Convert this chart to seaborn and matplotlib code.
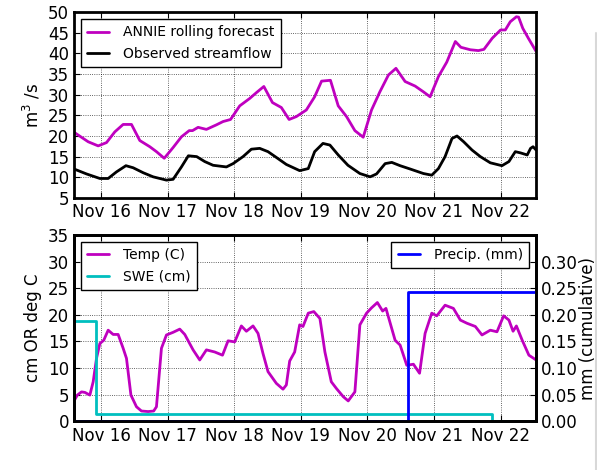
import pandas as pd
import numpy as np
import matplotlib
matplotlib.use("Agg")
import matplotlib.pyplot as plt
import matplotlib.dates as mdates
from matplotlib.lines import Line2D
import seaborn as sns

# hours since Nov 15 00:00
start = pd.Timestamp("2015-11-15")

fc_hours = [14.3, 19.4, 23, 26, 29, 32, 35, 38, 41.6, 44, 46.8, 50, 53, 55.8, 57, 59, 62,
            65.6, 68, 70.7, 74, 77.6, 80, 82.7, 85.8, 89, 91.8, 94.4, 98, 101, 103.5, 106.7,
            109.5, 112.5, 115.5, 118.5, 121.5, 124.5, 127.6, 130.3, 133.6, 137.2, 140.2,
            142.6, 145.6, 148.6, 151.7, 153.7, 157.1, 160, 162, 165, 168, 169.7, 171.5,
            173.7, 174.5, 176, 178, 180.8]
fc_vals = [20.9, 18.6, 17.6, 18.4, 21.0, 22.8, 22.8, 18.9, 17.4, 16.2, 14.6, 17.2, 19.8,
           21.3, 21.3, 22.1, 21.6, 22.7, 23.5, 24.0, 27.3, 29.1, 30.5, 32.0, 28.1, 26.9,
           24.0, 24.7, 26.3, 29.5, 33.3, 33.5, 27.3, 24.7, 21.3, 19.7, 26.3, 30.7, 34.8,
           36.4, 33.2, 32.1, 30.7, 29.5, 34.4, 37.9, 42.9, 41.5, 40.9, 40.7, 41.0, 43.7,
           45.7, 45.7, 47.7, 48.9, 48.8, 46.1, 43.7, 40.5]

obs_hours = [14.3, 18.8, 23.6, 26.6, 29.6, 33, 35.6, 39.2, 42.8, 47.6, 50, 53, 55.5, 58.5,
             61.4, 64.4, 69.2, 71.6, 75.2, 78.2, 81.2, 84.2, 87.2, 90.8, 95.6, 98.7, 101,
             104, 106.5, 109.5, 113, 117.3, 121, 123.3, 126.4, 128.8, 131.8, 135.4, 140.2,
             143.2, 145.6, 148, 150.5, 152.3, 154.7, 157.7, 160.7, 164.3, 168.5, 171,
             173.3, 175.2, 177.6, 178.8, 179.7, 180.8]
obs_vals = [12.0, 10.8, 9.7, 9.7, 11.3, 12.8, 12.3, 11.1, 10.1, 9.3, 9.5, 12.5, 15.2, 15.0,
            13.8, 12.9, 12.5, 13.3, 15.0, 16.8, 17.0, 16.2, 14.8, 13.1, 11.6, 12.1, 16.2,
            18.2, 17.8, 15.4, 12.9, 10.9, 10.1, 10.8, 13.3, 13.6, 12.8, 12.0, 10.9, 10.5,
            12.1, 15.0, 19.4, 20.0, 18.6, 16.6, 15.0, 13.5, 12.8, 13.8, 16.2, 15.9, 15.4,
            17.0, 17.4, 16.6]

temp_hours = [14.3, 15.5, 17, 18.2, 20, 21.2, 22.4, 23.6, 25, 26.6, 28.4, 30.2, 32, 33.2,
              34.8, 36.8, 38.6, 41, 43, 44, 45.8, 47.6, 50, 52.4, 54.2, 57.2, 59.6, 62, 65,
              67.8, 69.8, 72.2, 74.6, 76.4, 78.8, 80.6, 82.4, 84.2, 87.2, 89.6, 90.8, 92,
              93.8, 95.6, 96.8, 98.7, 100.7, 102.9, 104.7, 107, 108.9, 111.3, 113.1, 115.5,
              117.3, 119.7, 121.5, 123.6, 125.5, 126.7, 130, 131.8, 134.2, 136.6, 138.8,
              140.8, 143.2, 145, 148, 151, 153.5, 155.9, 158.9, 161.3, 164.3, 166.7, 169.1,
              171, 172.5, 173.7, 175.8, 178.2, 180.8]
temp_vals = [3.8, 4.9, 5.5, 5.4, 4.9, 7.4, 11.8, 14.6, 15.2, 17.1, 16.3, 16.3, 13.7, 11.8,
             4.9, 2.7, 1.9, 1.8, 1.9, 2.7, 13.7, 16.2, 16.7, 17.3, 16.3, 13.4, 11.5, 13.4,
             13.0, 12.4, 15.1, 14.9, 17.9, 16.9, 17.9, 16.5, 12.7, 9.3, 7.1, 6.0, 6.8, 11.3,
             13.0, 18.1, 17.8, 20.3, 20.6, 19.3, 13.0, 7.4, 6.1, 4.6, 3.8, 5.5, 18.1, 20.3,
             21.3, 22.3, 20.7, 21.2, 15.2, 14.3, 10.5, 10.7, 9.0, 16.5, 20.3, 19.8, 21.8,
             21.2, 19.0, 18.4, 17.8, 16.2, 17.1, 16.8, 19.8, 19.0, 16.9, 17.9, 15.2, 12.4,
             11.5]

swe_hours = [14.3, 22.2, 164.9, 180.8]
swe_vals = [18.9, 1.4, 0.0, 0.0]

precip_hours = [14.3, 134.8, 180.8]
precip_vals = [0.0, 0.242, 0.242]


def to_time(hours):
    return start + pd.to_timedelta(hours, unit="h")


sns.set_style("ticks")
plt.rcParams.update({
    "font.family": ["DejaVu Sans"],
    "font.size": 12,
    "axes.edgecolor": "black",
    "axes.linewidth": 2,
    "axes.grid": True,
    "grid.color": "black",
    "grid.linestyle": ":",
    "grid.linewidth": 0.6,
    "grid.alpha": 0.8,
    "xtick.direction": "in",
    "ytick.direction": "in",
    "xtick.top": True,
    "ytick.right": False,
    "xtick.major.size": 4,
    "ytick.major.size": 4,
    "xtick.color": "black",
    "ytick.color": "black",
    "text.color": "black",
    "axes.labelcolor": "black",
    "legend.frameon": True,
    "legend.fancybox": False,
    "legend.edgecolor": "black",
    "legend.framealpha": 1,
})

fig = plt.figure(figsize=(5.97, 4.70), dpi=100)
ax1 = fig.add_axes([0.124, 0.579, 0.774, 0.395])
ax2 = fig.add_axes([0.124, 0.104, 0.774, 0.396])

xmin = to_time(14.3)
xmax = to_time(180.8)

leg_kw = dict(fontsize=10, handlelength=1.6, handletextpad=1.0, borderpad=0.45,
              labelspacing=0.55)

sns.lineplot(x=to_time(fc_hours), y=fc_vals, ax=ax1, color="m", linewidth=2,
             label="ANNIE rolling forecast", estimator=None)
sns.lineplot(x=to_time(obs_hours), y=obs_vals, ax=ax1, color="k", linewidth=2,
             label="Observed streamflow", estimator=None)
ax1.set_ylim(5, 50)
ax1.set_yticks(range(5, 51, 5))
ax1.set_ylabel("m$^3$ /s")
ax1.legend(loc="upper left", **leg_kw)

sns.lineplot(x=to_time(temp_hours), y=temp_vals, ax=ax2, color="m", linewidth=2,
             label="Temp (C)", estimator=None)
sns.lineplot(x=to_time(swe_hours), y=swe_vals, ax=ax2, color="c", linewidth=2,
             label="SWE (cm)", estimator=None, drawstyle="steps-post")
ax2.set_ylim(0, 35)
ax2.set_yticks(range(0, 36, 5))
ax2.set_ylabel("cm OR deg C")
ax2.legend(loc="upper left", **leg_kw)

ax3 = ax2.twinx()
ax3.grid(False)
sns.lineplot(x=to_time(precip_hours), y=precip_vals, ax=ax3, color="b", linewidth=2,
             label="Precip. (mm)", estimator=None, drawstyle="steps-post")
ax3.set_ylim(0, 0.35)
ax3.set_yticks(np.arange(0, 0.301, 0.05))
ax3.set_yticklabels(["%.2f" % v for v in np.arange(0, 0.301, 0.05)])
ax3.set_ylabel("mm (cumulative)", labelpad=1)
ax3.tick_params(axis="y", direction="in", right=True)
ax3.legend(loc="upper right", **leg_kw)

for ax in (ax1, ax2):
    ax.set_xlim(xmin, xmax)
    ax.xaxis.set_major_locator(mdates.DayLocator())
    ax.xaxis.set_major_formatter(mdates.DateFormatter("%b %d"))
    ax.set_xlabel("")
    ax.tick_params(axis="x", pad=4)
    for s in ax.spines.values():
        s.set_linewidth(2)
        s.set_visible(True)
for s in ax3.spines.values():
    s.set_linewidth(2)

# light border line at the right edge of the screenshot
fig.add_artist(Line2D([0.9975, 0.9975], [0.0, 0.93], transform=fig.transFigure,
                      color="#d8d8d8", linewidth=1.5))

fig.savefig("out.png", dpi=100, facecolor="white")
